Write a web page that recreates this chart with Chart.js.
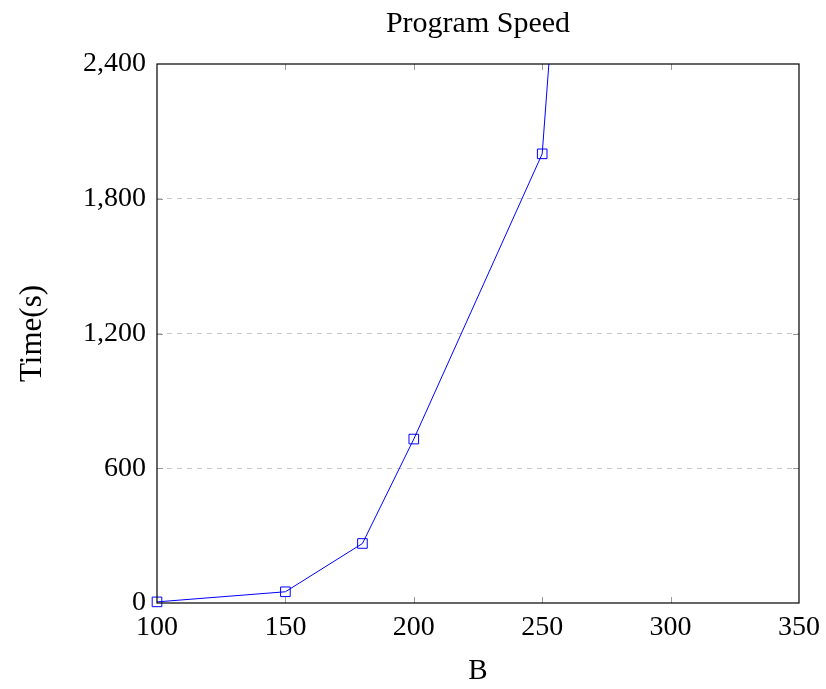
<!DOCTYPE html>
<html>
<head>
<meta charset="utf-8">
<script src="https://cdn.jsdelivr.net/npm/chart.js@4.4.1/dist/chart.umd.min.js"></script>
<style>
  html, body { margin: 0; padding: 0; background: #fff; }
  #wrap { width: 826px; height: 689px; }
</style>
</head>
<body>
<div id="wrap"><canvas id="chart" width="826" height="689"></canvas></div>
<script>
// values
var sizes = [100, 150, 180, 200, 250, 300];
var times = [5, 50, 265, 730, 2000, 9700];
var xTicks = [100, 150, 200, 250, 300, 350];
var yTicks = [0, 600, 1200, 1800, 2400];

var points = sizes.map(function (b, i) { return { x: b, y: times[i] }; });

var serif = "'Liberation Serif', 'DejaVu Serif', serif";

// frame around the plot with small inward tick marks, pgfplots style
var framePlugin = {
    id: 'frame',
    afterDatasetsDraw: function (chart) {
        var ctx = chart.ctx, a = chart.chartArea;
        var xs = chart.scales.x, ys = chart.scales.y;
        var len = 6;
        ctx.save();
        ctx.strokeStyle = '#9a9a9a';
        ctx.lineWidth = 1;
        ctx.beginPath();
        xTicks.forEach(function (v) {
            var px = Math.round(xs.getPixelForValue(v)) + 0.5;
            if (v === xTicks[0] || v === xTicks[xTicks.length - 1]) return;
            ctx.moveTo(px, a.bottom); ctx.lineTo(px, a.bottom - len);
            ctx.moveTo(px, a.top); ctx.lineTo(px, a.top + len);
        });
        yTicks.forEach(function (v) {
            var py = Math.round(ys.getPixelForValue(v)) + 0.5;
            if (v === yTicks[0] || v === yTicks[yTicks.length - 1]) return;
            ctx.moveTo(a.left, py); ctx.lineTo(a.left + len, py);
            ctx.moveTo(a.right, py); ctx.lineTo(a.right - len, py);
        });
        ctx.stroke();
        ctx.strokeStyle = '#000';
        ctx.lineWidth = 1.2;
        ctx.strokeRect(a.left, a.top, a.right - a.left, a.bottom - a.top);
        ctx.restore();
    }
};

var ctx = document.getElementById('chart').getContext('2d');
new Chart(ctx, {
    type: 'scatter',
    data: {
        datasets: [{
            data: points,
            showLine: true,
            clip: { left: 10, bottom: 10, top: 0, right: 0 },
            borderColor: '#0000ff',
            borderWidth: 1,
            backgroundColor: 'rgba(0,0,0,0)',
            pointStyle: 'rect',
            pointRadius: 6.8,
            pointBorderWidth: 1,
            pointBorderColor: '#0000ff',
            pointBackgroundColor: 'rgba(0,0,0,0)'
        }]
    },
    options: {
        responsive: false,
        animation: false,
        layout: { padding: { left: 14, right: 27, top: 0, bottom: 0 } },
        plugins: {
            legend: { display: false },
            tooltip: { enabled: false },
            title: {
                display: true,
                text: 'Program Speed',
                fullSize: false,
                color: '#000',
                font: { family: serif, size: 30, weight: 'normal', lineHeight: 1.2 },
                padding: { top: 6, bottom: 22 }
            }
        },
        scales: {
            x: {
                type: 'linear',
                min: 100,
                max: 350,
                afterBuildTicks: function (s) { s.ticks = xTicks.map(function (v) { return { value: v }; }); },
                afterFit: function (s) { s.height = 86; s.paddingLeft = 0; s.paddingRight = 0; },
                grid: { display: false, drawTicks: false },
                border: { display: false },
                ticks: {
                    color: '#000',
                    padding: 8,
                    font: { family: serif, size: 28 }
                },
                title: {
                    display: true,
                    text: 'B',
                    color: '#000',
                    font: { family: serif, size: 29 },
                    padding: { top: 4, bottom: 0 }
                }
            },
            y: {
                type: 'linear',
                min: 0,
                max: 2400,
                afterBuildTicks: function (s) { s.ticks = yTicks.map(function (v) { return { value: v }; }); },
                afterFit: function (s) { s.width = 143; },
                grid: {
                    drawTicks: false,
                    color: function (c) {
                        var v = c.tick ? c.tick.value : null;
                        return (v === 0 || v === 2400) ? 'rgba(0,0,0,0)' : '#c8c8c8';
                    },
                    lineWidth: 1
                },
                border: { display: false, dash: [5, 5] },
                ticks: {
                    color: '#000',
                    padding: 11,
                    font: { family: serif, size: 28 }
                },
                title: {
                    display: true,
                    text: 'Time(s)',
                    color: '#000',
                    font: { family: serif, size: 31 },
                    padding: { top: 0, bottom: 0 }
                }
            }
        }
    },
    plugins: [framePlugin]
});
</script>
</body>
</html>
